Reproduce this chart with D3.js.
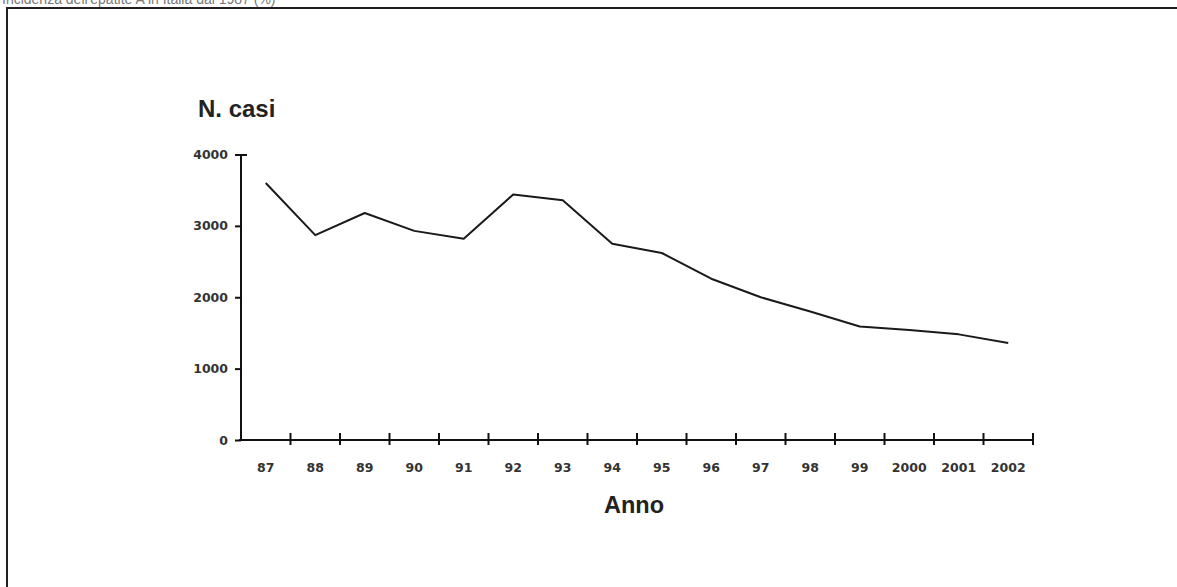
<!DOCTYPE html>
<html>
<head>
<meta charset="utf-8">
<script src="https://cdn.jsdelivr.net/npm/d3@7"></script>
<style>
  html, body { margin: 0; padding: 0; background: #fff; }
  svg { display: block; }
</style>
</head>
<body>
<svg id="chart" width="1177" height="587"></svg>
<script>
// ---- data ----
const years = ["87","88","89","90","91","92","93","94","95","96","97","98","99","2000","2001","2002"];
const cases = [3600, 2870, 3180, 2930, 2820, 3440, 3360, 2750, 2620, 2260, 2000, 1800, 1590, 1540, 1480, 1360];
const yTicks = [0, 1000, 2000, 3000, 4000];
const titleText = "Incidenza dell'epatite A in Italia dal 1987 (%)";
const yTitle = "N. casi";
const xTitle = "Anno";

(function () {
const svg = d3.select("#chart");

// caption at the very top (only its lower part shows, as in the source)
svg.append("text")
  .attr("x", 2).attr("y", 4)
  .attr("font-family", "Liberation Sans, Arial, sans-serif")
  .attr("font-size", 14)
  .attr("fill", "#777")
  .text(titleText);

// frame
svg.append("rect")
  .attr("x", 7).attr("y", 8)
  .attr("width", 1300).attr("height", 700)
  .attr("fill", "none")
  .attr("stroke", "#231f20")
  .attr("stroke-width", 2);

const pLeft = 241, pRight = 1033, pTop = 154.5, pBottom = 440;

const x = d3.scaleBand().domain(years).range([pLeft, pRight]).padding(0);
const y = d3.scaleLinear().domain([0, 4000]).range([pBottom, pTop]);

const tickFont = "DejaVu Sans, sans-serif";

// y axis
const yAxis = d3.axisLeft(y).tickValues(yTicks).tickSize(6).tickPadding(7).tickFormat(d3.format("d"));
const gy = svg.append("g").attr("transform", `translate(${pLeft},0)`).call(yAxis);
gy.select(".domain").attr("stroke", "#111").attr("stroke-width", 2).attr("d", `M0,${pTop}V${pBottom}`);
gy.selectAll(".tick line").attr("stroke", "#111").attr("stroke-width", 2);
gy.selectAll(".tick").filter(d => d === 4000).select("line").attr("x2", 6).attr("x1", -6);
gy.selectAll(".tick text")
  .attr("font-family", tickFont).attr("font-weight", "bold")
  .attr("font-size", 12.5).attr("fill", "#333");

// x axis
const gx = svg.append("g").attr("transform", `translate(0,${pBottom})`);
gx.append("line").attr("x1", pLeft - 2).attr("x2", pRight).attr("y1", 0).attr("y2", 0)
  .attr("stroke", "#111").attr("stroke-width", 2);
gx.selectAll("line.tk").data(years).join("line").attr("class", "tk")
  .attr("x1", d => x(d) + x.bandwidth()).attr("x2", d => x(d) + x.bandwidth())
  .attr("y1", -7).attr("y2", 5)
  .attr("stroke", "#111").attr("stroke-width", 2);
gx.selectAll("text").data(years).join("text")
  .attr("x", d => x(d) + x.bandwidth() / 2)
  .attr("y", 31.5)
  .attr("text-anchor", "middle")
  .attr("font-family", tickFont).attr("font-weight", "bold")
  .attr("font-size", 12.5).attr("fill", "#333")
  .text(d => d);

// line
const line = d3.line()
  .x((d, i) => x(years[i]) + x.bandwidth() / 2)
  .y(d => y(d));
svg.append("path")
  .datum(cases)
  .attr("d", line)
  .attr("fill", "none")
  .attr("stroke", "#1a1a1a")
  .attr("stroke-width", 2)
  .attr("stroke-linejoin", "round");

// titles
svg.append("text")
  .attr("x", 198).attr("y", 117)
  .attr("font-family", "Liberation Sans, Arial, sans-serif")
  .attr("font-weight", "bold").attr("font-size", 24)
  .attr("fill", "#222")
  .text(yTitle);

svg.append("text")
  .attr("x", 634).attr("y", 513)
  .attr("text-anchor", "middle")
  .attr("font-family", "Liberation Sans, Arial, sans-serif")
  .attr("font-weight", "bold").attr("font-size", 23.5)
  .attr("fill", "#222")
  .text(xTitle);
})();
</script>
</body>
</html>
